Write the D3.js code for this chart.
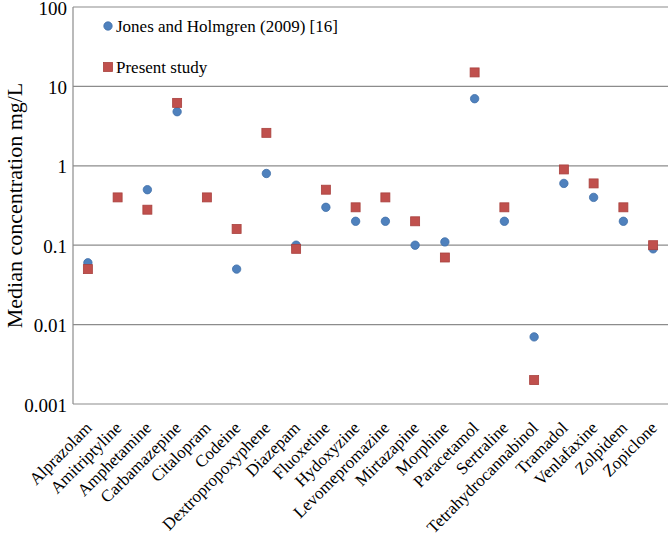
<!DOCTYPE html>
<html>
<head>
<meta charset="utf-8">
<script src="https://cdn.jsdelivr.net/npm/d3@7"></script>
<style>
  body { margin: 0; background: #fff; }
  text { font-family: "Liberation Serif", "Times New Roman", serif; fill: #000; }
</style>
</head>
<body>
<svg id="chart" width="669" height="533"></svg>
<script>
// drugs on the x axis
const drugs = ["Alprazolam", "Amitriptyline", "Amphetamine", "Carbamazepine", "Citalopram",
  "Codeine", "Dextropropoxyphene", "Diazepam", "Fluoxetine", "Hydoxyzine", "Levomepromazine",
  "Mirtazapine", "Morphine", "Paracetamol", "Sertraline", "Tetrahydrocannabinol", "Tramadol",
  "Venlafaxine", "Zolpidem", "Zopiclone"]
// median concentrations, mg/L (null = not reported)
const jonesValues = [0.06, null, 0.5, 4.8, null, 0.05, 0.8, 0.1, 0.3, 0.2, 0.2,
  0.1, 0.11, 7, 0.2, 0.007, 0.6, 0.4, 0.2, 0.09]
const presentValues = [0.05, 0.4, 0.28, 6.2, 0.4, 0.16, 2.6, 0.09, 0.5, 0.3, 0.4,
  0.2, 0.07, 15, 0.3, 0.002, 0.9, 0.6, 0.3, 0.1]
const yTicks = [0.001, 0.01, 0.1, 1, 10, 100]
const yTickLabels = ["0.001", "0.01", "0.1", "1", "10", "100"]
const seriesNames = ["Jones and Holmgren (2009) [16]", "Present study"]

const svg = d3.select("#chart")
const plotLeft = 73, plotRight = 668, plotTop = 7, plotBottom = 404
const serif = "'Liberation Serif', 'Times New Roman', serif"

const x = d3.scaleBand().domain(drugs).range([plotLeft, plotRight])
const y = d3.scaleLog().domain([0.001, 100]).range([plotBottom, plotTop])

// gridlines
svg.append("g").selectAll("line")
  .data(yTicks)
  .enter().append("line")
  .attr("x1", plotLeft).attr("x2", plotRight)
  .attr("y1", d => y(d)).attr("y2", d => y(d))
  .attr("stroke", "#8c8c8c").attr("stroke-width", 1.2)

// axis line
svg.append("line")
  .attr("x1", plotLeft).attr("x2", plotLeft).attr("y1", plotTop).attr("y2", plotBottom)
  .attr("stroke", "#8c8c8c").attr("stroke-width", 1.2)

// y tick labels
svg.append("g").selectAll("text")
  .data(yTicks)
  .enter().append("text")
  .attr("x", plotLeft - 6)
  .attr("y", d => y(d))
  .attr("dy", "0.4em")
  .attr("text-anchor", "end")
  .attr("font-family", serif)
  .style("font-size", "19px")
  .text((d, i) => yTickLabels[i])

// y title
svg.append("text")
  .attr("transform", `translate(22,${(plotTop + plotBottom) / 2}) rotate(-90)`)
  .attr("text-anchor", "middle")
  .attr("font-family", serif)
  .style("font-size", "22px")
  .text("Median concentration mg/L")

// x labels
svg.append("g").selectAll("text")
  .data(drugs)
  .enter().append("text")
  .attr("transform", d => `translate(${x(d) + x.bandwidth() / 2 + 5},${plotBottom + 25}) rotate(-45)`)
  .attr("text-anchor", "end")
  .attr("font-family", serif)
  .style("font-size", "17px")
  .text(d => d)

const cx = d => x(d) + x.bandwidth() / 2

// Jones and Holmgren: circles
svg.append("g").selectAll("circle")
  .data(drugs.map((d, i) => ({ d, v: jonesValues[i] })).filter(p => p.v != null))
  .enter().append("circle")
  .attr("cx", p => cx(p.d))
  .attr("cy", p => y(p.v))
  .attr("r", 4.2)
  .attr("fill", "#4f81bd")
  .attr("stroke", "#3f6fa8").attr("stroke-width", 0.8)

// present study: squares
svg.append("g").selectAll("rect")
  .data(drugs.map((d, i) => ({ d, v: presentValues[i] })).filter(p => p.v != null))
  .enter().append("rect")
  .attr("x", p => cx(p.d) - 4.5)
  .attr("y", p => y(p.v) - 4.5)
  .attr("width", 9).attr("height", 9)
  .attr("fill", "#c0504d")
  .attr("stroke", "#a9413e").attr("stroke-width", 0.8)

// legend
const legend = svg.append("g")
legend.append("circle")
  .attr("cx", 108).attr("cy", 26).attr("r", 4.2)
  .attr("fill", "#4f81bd").attr("stroke", "#3f6fa8").attr("stroke-width", 0.8)
legend.append("text")
  .attr("x", 116).attr("y", 26).attr("dy", "0.35em")
  .attr("font-family", serif)
  .style("font-size", "17px")
  .text(seriesNames[0])
legend.append("rect")
  .attr("x", 103.5).attr("y", 62.5).attr("width", 9).attr("height", 9)
  .attr("fill", "#c0504d").attr("stroke", "#a9413e").attr("stroke-width", 0.8)
legend.append("text")
  .attr("x", 116).attr("y", 67).attr("dy", "0.35em")
  .attr("font-family", serif)
  .style("font-size", "17px")
  .text(seriesNames[1])
</script>
</body>
</html>
